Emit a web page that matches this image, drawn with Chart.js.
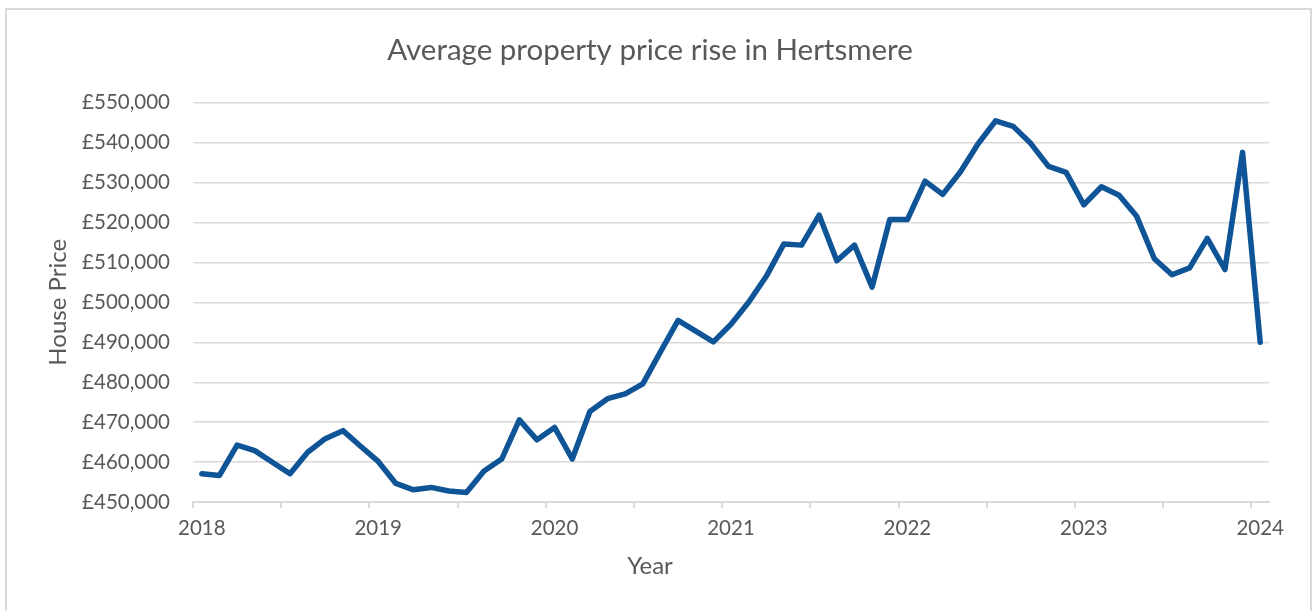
<!DOCTYPE html>
<html>
<head>
<meta charset="utf-8">
<script src="https://cdn.jsdelivr.net/npm/chart.js@4.4.1/dist/chart.umd.min.js"></script>
<style>
  html, body { margin: 0; padding: 0; background: #fff; overflow: hidden; }
  #wrap { position: relative; width: 1313px; height: 611px; }
  #frame { position: absolute; left: 5px; top: 8px; width: 1303px; height: 700px; border: 2px solid #d9d9d9; }
  #chart { position: absolute; left: 0; top: 0; }
</style>
</head>
<body>
<div id="wrap">
  <div id="frame"></div>
  <canvas id="chart" width="1313" height="611"></canvas>
</div>
<script>
// average price per period, Jan 2018 .. Jan 2024
const prices = [
    457100, 456700, 464300, 462900, 460000, 457100, 462500, 465900, 467900, 464000,
    460200, 454700, 453100, 453700, 452800, 452400, 457800, 460800, 470600, 465600,
    468700, 460800, 472700, 475900, 477100, 479600, 487600, 495500, 492800, 490100,
    494500, 500000, 506500, 514600, 514300, 521800, 510400, 514300, 503800, 520700,
    520700, 530300, 527000, 532600, 539600, 545400, 544000, 539700, 534000, 532500,
    524400, 528900, 526800, 521500, 510900, 506900, 508600, 516000, 508200, 537500,
    490000
];
const yearLabels = ['2018', '2019', '2020', '2021', '2022', '2023', '2024'];
const periods = prices.map((p, i) => i);

const textColor = '#595959';
const gridColor = '#d9d9d9';

new Chart(document.getElementById('chart'), {
    type: 'line',
    data: {
        labels: periods,
        datasets: [{
            label: 'House Price',
            data: prices,
            borderColor: '#0e5496',
            borderWidth: 5.5,
            borderJoinStyle: 'round',
            borderCapStyle: 'round',
            pointRadius: 0,
            tension: 0,
            fill: false
        }]
    },
    options: {
        responsive: false,
        animation: false,
        layout: { padding: { left: 31, right: 44, top: 0, bottom: 0 } },
        plugins: {
            legend: { display: false },
            tooltip: { enabled: false },
            title: {
                display: true,
                text: 'Average property price rise in Hertsmere',
                color: textColor,
                font: { family: 'Lato', size: 29.5, weight: 'normal' },
                padding: { top: 33, bottom: 34 }
            },
            // "Year" sits off-centre in the original, so it goes in the subtitle slot
            subtitle: {
                display: true,
                position: 'bottom',
                text: 'Year',
                color: textColor,
                font: { family: 'Lato', size: 24, weight: 'normal' },
                padding: { top: 2, bottom: 30 }
            }
        },
        scales: {
            x: {
                offset: true,
                afterFit: (s) => { s.height = 48; },
                grid: {
                    offset: true,
                    drawOnChartArea: false,
                    drawTicks: true,
                    tickLength: 6,
                    lineWidth: 2,
                    color: (ctx) => ctx.index % 5 === 0 ? gridColor : 'rgba(0,0,0,0)'
                },
                border: { display: true, color: gridColor, width: 2 },
                ticks: {
                    autoSkip: false,
                    maxRotation: 0,
                    padding: 8,
                    color: textColor,
                    font: { family: 'Lato', size: 20.5 },
                    callback: (val, i) => i % 10 === 0 ? yearLabels[i / 10] : ''
                }
            },
            y: {
                min: 450000,
                max: 550000,
                afterFit: (s) => { s.width = 162; },
                grid: { color: gridColor, lineWidth: 1.5, drawTicks: false },
                border: { display: false },
                ticks: {
                    stepSize: 10000,
                    padding: 23,
                    color: textColor,
                    font: { family: 'Lato', size: 20.5 },
                    callback: (v) => '£' + v.toLocaleString('en-GB')
                },
                title: {
                    display: true,
                    text: 'House Price',
                    color: textColor,
                    font: { family: 'Lato', size: 24 },
                    padding: { top: 13, bottom: 4 }
                }
            }
        }
    }
});
</script>
</body>
</html>
